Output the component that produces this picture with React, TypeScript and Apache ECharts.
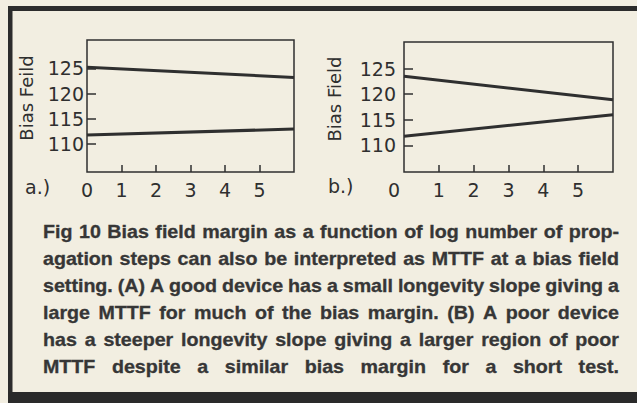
import React, { useEffect, useRef } from "react";
import * as echarts from "echarts";

// ---- data ----
const xEnds = [0, 6];
const aUpper = [125.2, 123.2];
const aLower = [111.8, 113.0];
const bUpper = [123.5, 118.9];
const bLower = [111.8, 116.0];
const yTicks = [110, 115, 120, 125];
const xTickMarks = [1, 2, 3, 4, 5];
const xTickLabels = [0, 1, 2, 3, 4, 5];
const panelLabels = ["a.)", "b.)"];
const yNames = ["Bias Feild", "Bias Field"];
const captionLines = [
  "Fig 10 Bias field margin as a function of log number of prop-",
  "agation steps can also be interpreted as MTTF at a bias field",
  "setting. (A) A good device has a small longevity slope giving a",
  "large MTTF for much of the bias margin. (B) A poor device",
  "has a steeper longevity slope giving a larger region of poor",
  "MTTF despite a similar bias margin for a short test.",
];

const BG = "#f2eee1";
const INK = "#2f2f2f";
const AX_FONT = "DejaVu Sans";
const AX_SIZE = 19;

function pairs(xs: number[], ys: number[]) {
  return xs.map((x, i) => [x, ys[i]]);
}

export default function App() {
  const ref = useRef<HTMLDivElement>(null);
  useEffect(() => {
    if (!ref.current) return;
    const chart = echarts.init(ref.current, null, { renderer: "svg" });

    // caption layout (justified)
    const capFs = 17.5;
    const capFont = `bold ${capFs}px "Liberation Sans"`;
    const ctx = document.createElement("canvas").getContext("2d")!;
    ctx.font = capFont;
    const left = 43;
    const W = 576;
    const spaceW = ctx.measureText(" ").width * 0.9;
    const lineWords = captionLines.map((l) => l.split(/\s+/));
    const lineWidths = lineWords.map((ws) => ws.map((w) => ctx.measureText(w).width));
    let s = 10;
    lineWidths.forEach((ws) => {
      const nat = ws.reduce((a, b) => a + b, 0) + (ws.length - 1) * spaceW;
      s = Math.min(s, W / nat);
    });
    const capEls: any[] = [];
    lineWords.forEach((ws, li) => {
      const widths = lineWidths[li];
      const sum = widths.reduce((a, b) => a + b, 0) * s;
      const gap = (W - sum) / (ws.length - 1);
      let x = left;
      ws.forEach((w, wi) => {
        capEls.push({
          type: "text",
          x,
          y: 232 + li * 27,
          scaleX: s,
          style: {
            text: w,
            font: capFont,
            fill: "#363636",
            stroke: "#363636",
            lineWidth: 0.3,
            align: "left",
            verticalAlign: "middle",
          },
        });
        x += widths[wi] * s + gap;
      });
    });

    const axText = { fontFamily: AX_FONT, fontSize: AX_SIZE, color: INK };

    const makeX = (gi: number, shiftZero: boolean) => ({
      gridIndex: gi,
      type: "value",
      min: 0,
      max: 6,
      interval: 1,
      axisLine: { show: false },
      splitLine: { show: false },
      axisTick: {
        show: true,
        inside: true,
        length: 7,
        customValues: xTickMarks,
        lineStyle: { color: INK, width: 1.5 },
      },
      axisLabel: {
        ...axText,
        margin: 8,
        customValues: xTickLabels,
        formatter: (v: number) => (shiftZero && v === 0 ? "{z|0}" : String(v)),
        rich: { z: { ...axText, padding: [0, 20, 0, 0] } },
      },
    });

    const makeY = (gi: number, min: number, max: number, margin: number, gap: number) => ({
      gridIndex: gi,
      type: "value",
      min,
      max,
      axisLine: { show: false },
      splitLine: { show: false },
      axisTick: {
        show: true,
        inside: true,
        length: 9,
        customValues: yTicks,
        lineStyle: { color: INK, width: 1.5 },
      },
      axisLabel: { ...axText, margin, customValues: yTicks },
      name: yNames[gi],
      nameLocation: "middle",
      nameRotate: 90,
      nameGap: gap,
      nameTextStyle: { ...axText, fontSize: 18, padding: [0, 0, 0, 16] },
    });

    const lineStyle = { color: INK, width: 3 };
    const mkSeries = (gi: number, ys: number[]) => ({
      type: "line",
      xAxisIndex: gi,
      yAxisIndex: gi,
      data: pairs(xEnds, ys),
      symbol: "none",
      lineStyle,
      silent: true,
    });

    chart.setOption({
      animation: false,
      backgroundColor: BG,
      grid: [
        { left: 87, top: 40, width: 207, height: 132, show: true, borderColor: INK, borderWidth: 1.5, backgroundColor: "transparent" },
        { left: 404, top: 42, width: 209, height: 130, show: true, borderColor: INK, borderWidth: 1.5, backgroundColor: "transparent" },
      ],
      xAxis: [makeX(0, false), makeX(1, true)],
      yAxis: [makeY(0, 104.5, 130.6, 3, 52), makeY(1, 104.8, 130.2, 8, 61)],
      series: [mkSeries(0, aUpper), mkSeries(0, aLower), mkSeries(1, bUpper), mkSeries(1, bLower)],
      graphic: [
        { type: "rect", shape: { x: 8, y: 6, width: 629, height: 5 }, style: { fill: "#2c2c2c" } },
        { type: "rect", shape: { x: 8, y: 6, width: 4.5, height: 397 }, style: { fill: "#2c2c2c" } },
        { type: "rect", shape: { x: 8, y: 392, width: 629, height: 11 }, style: { fill: "#2a2a2a" } },
        { type: "text", x: 25, y: 187, style: { text: panelLabels[0], font: `${AX_SIZE}px "${AX_FONT}"`, fill: INK, align: "left", verticalAlign: "middle" } },
        { type: "text", x: 328, y: 186, style: { text: panelLabels[1], font: `${AX_SIZE}px "${AX_FONT}"`, fill: INK, align: "left", verticalAlign: "middle" } },
        ...capEls,
      ],
    });
    return () => chart.dispose();
  }, []);
  return (
    <div style={{ position: "absolute", left: 0, top: 0, width: 637, height: 403, background: BG }}>
      <div ref={ref} style={{ width: 637, height: 403 }} />
    </div>
  );
}
